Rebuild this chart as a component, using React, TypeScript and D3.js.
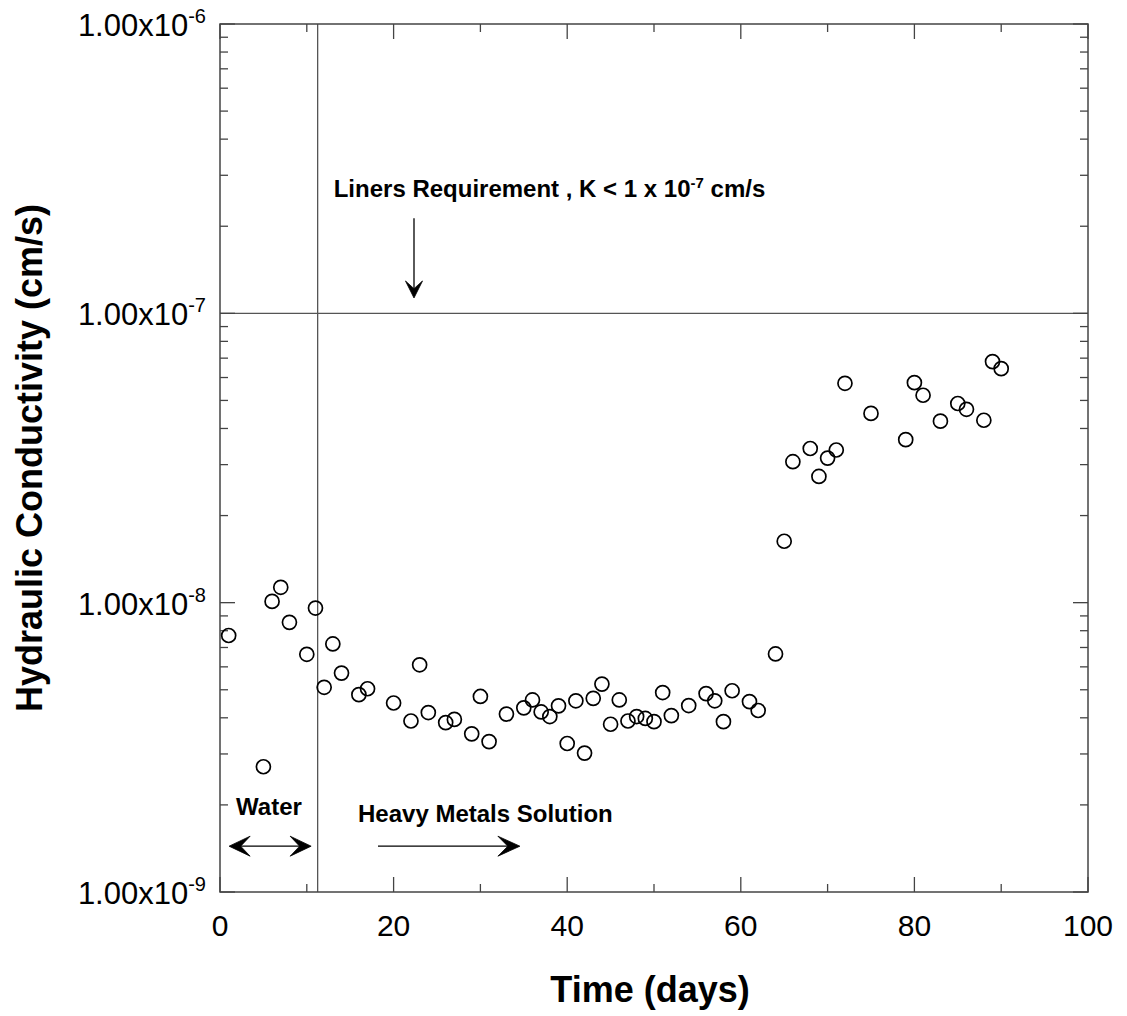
import React from "react";
import * as d3 from "d3";

const days = [1, 5, 6, 7, 8, 10, 11, 12, 13, 14, 16, 17, 20, 22, 23, 24, 26, 27, 29, 30, 31, 33, 35, 36, 37, 38, 39, 40, 41, 42, 43, 44, 45, 46, 47, 48, 49, 50, 51, 52, 54, 56, 57, 58, 59, 61, 62, 64, 65, 66, 68, 69, 70, 71, 72, 75, 79, 80, 81, 83, 85, 86, 88, 89, 90];
const conductivity = [
  7.7e-9, 2.71e-9, 1.01e-8, 1.13e-8, 8.55e-9, 6.63e-9, 9.58e-9, 5.1e-9, 7.2e-9, 5.71e-9,
  4.81e-9, 5.04e-9, 4.5e-9, 3.9e-9, 6.1e-9, 4.17e-9, 3.85e-9, 3.95e-9, 3.52e-9, 4.74e-9,
  3.31e-9, 4.12e-9, 4.33e-9, 4.61e-9, 4.19e-9, 4.04e-9, 4.4e-9, 3.26e-9, 4.58e-9, 3.02e-9,
  4.67e-9, 5.23e-9, 3.8e-9, 4.61e-9, 3.9e-9, 4.04e-9, 3.98e-9, 3.88e-9, 4.89e-9, 4.07e-9,
  4.41e-9, 4.85e-9, 4.58e-9, 3.88e-9, 4.96e-9, 4.55e-9, 4.24e-9, 6.65e-9, 1.63e-8, 3.07e-8,
  3.41e-8, 2.73e-8, 3.16e-8, 3.37e-8, 5.73e-8, 4.51e-8, 3.66e-8, 5.76e-8, 5.21e-8, 4.24e-8,
  4.88e-8, 4.66e-8, 4.27e-8, 6.81e-8, 6.44e-8,
];

const xMajorTicks = [0, 20, 40, 60, 80, 100];
const xMinorTicks = [10, 30, 50, 70, 90];
const yMajorTicks = [1e-9, 1e-8, 1e-7, 1e-6];
const yTickMantissa = ["1.00x10", "1.00x10", "1.00x10", "1.00x10"];
const yTickExponent = ["-9", "-8", "-7", "-6"];
const yMinorMultipliers = [2, 3, 4, 5, 6, 7, 8, 9];

const linerLimit = 1e-7;
const switchDay = 11.25;

const xTitle = "Time (days)";
const yTitle = "Hydraulic Conductivity (cm/s)";

const FONT = "'Liberation Sans', Arial, Helvetica, sans-serif";

function ArrowHead({ x, y, dir, len, half }: { x: number; y: number; dir: "left" | "right" | "down"; len: number; half: number }) {
  let d = "";
  if (dir === "right") {
    d = `M${x},${y} L${x - len},${y - half} L${x - len * 0.55},${y} L${x - len},${y + half} Z`;
  } else if (dir === "left") {
    d = `M${x},${y} L${x + len},${y - half} L${x + len * 0.55},${y} L${x + len},${y + half} Z`;
  } else {
    d = `M${x},${y} L${x - half},${y - len} L${x},${y - len * 0.55} L${x + half},${y - len} Z`;
  }
  return <path d={d} fill="#000" stroke="#000" strokeWidth={0.8} strokeLinejoin="miter" />;
}

export default function App() {
  const W = 1127;
  const H = 1016;
  const x = d3.scaleLinear().domain([0, 100]).range([220, 1088]);
  const y = d3.scaleLog().domain([1e-9, 1e-6]).range([892, 24]);
  const [x0, x1] = x.range();
  const [yb, yt] = y.range();

  const yMinor: number[] = [];
  for (let e = -9; e < -6; e++) {
    for (const m of yMinorMultipliers) yMinor.push(m * Math.pow(10, e));
  }

  const axisColor = "#444";
  const majorLen = 15;
  const minorLen = 8;

  // annotation anchors (data space)
  const linerArrowDay = 22.35;
  const linerArrowTop = 2.13e-7;
  const linerArrowTip = 1.13e-7;
  const linerTextDay = 13.1;
  const linerTextK = 2.52e-7;
  const waterFrom = 1.05;
  const waterTo = 10.5;
  const arrowK = 1.44e-9;
  const heavyFrom = 18.2;
  const heavyTo = 34.55;
  const waterTextDay = 1.85;
  const waterTextK = 1.84e-9;
  const heavyTextDay = 15.9;
  const heavyTextK = 1.745e-9;

  return (
    <svg width={W} height={H} style={{ position: "absolute", left: 0, top: 0, background: "#fff" }} fontFamily={FONT}>
      <rect x={0} y={0} width={W} height={H} fill="#fff" />

      {/* reference lines */}
      <line x1={x0} x2={x1} y1={y(linerLimit)} y2={y(linerLimit)} stroke="#555" strokeWidth={1.3} />
      <line x1={x(switchDay)} x2={x(switchDay)} y1={yt} y2={yb} stroke="#555" strokeWidth={1.3} />

      {/* ticks */}
      {xMajorTicks.map((t) => (
        <g key={"xM" + t}>
          <line x1={x(t)} x2={x(t)} y1={yb} y2={yb - majorLen} stroke={axisColor} strokeWidth={1.3} />
          <line x1={x(t)} x2={x(t)} y1={yt} y2={yt + majorLen} stroke={axisColor} strokeWidth={1.3} />
        </g>
      ))}
      {xMinorTicks.map((t) => (
        <g key={"xm" + t}>
          <line x1={x(t)} x2={x(t)} y1={yb} y2={yb - minorLen} stroke={axisColor} strokeWidth={1.3} />
          <line x1={x(t)} x2={x(t)} y1={yt} y2={yt + minorLen} stroke={axisColor} strokeWidth={1.3} />
        </g>
      ))}
      {yMajorTicks.map((t) => (
        <g key={"yM" + t}>
          <line x1={x0} x2={x0 + majorLen} y1={y(t)} y2={y(t)} stroke={axisColor} strokeWidth={1.3} />
          <line x1={x1} x2={x1 - majorLen} y1={y(t)} y2={y(t)} stroke={axisColor} strokeWidth={1.3} />
        </g>
      ))}
      {yMinor.map((t, i) => (
        <g key={"ym" + i}>
          <line x1={x0} x2={x0 + minorLen} y1={y(t)} y2={y(t)} stroke={axisColor} strokeWidth={1.3} />
          <line x1={x1} x2={x1 - minorLen} y1={y(t)} y2={y(t)} stroke={axisColor} strokeWidth={1.3} />
        </g>
      ))}

      {/* frame */}
      <rect x={x0} y={yt} width={x1 - x0} height={yb - yt} fill="none" stroke={axisColor} strokeWidth={1.5} />

      {/* tick labels */}
      {xMajorTicks.map((t) => (
        <text key={"xl" + t} x={x(t)} y={936} textAnchor="middle" fontSize={30} fill="#000">
          {t}
        </text>
      ))}
      {yMajorTicks.map((t, i) => (
        <text key={"yl" + t} x={206} y={y(t) + 12} textAnchor="end" fontSize={31} fill="#000">
          {yTickMantissa[i]}
          <tspan fontSize={20} dy={-13}>{yTickExponent[i]}</tspan>
        </text>
      ))}

      {/* axis titles */}
      <text x={(x0 + x1) / 2 - 4} y={1002} textAnchor="middle" fontSize={36} fontWeight="bold" fill="#000">
        {xTitle}
      </text>
      <text transform={`translate(42,${(yt + yb) / 2}) rotate(-90)`} textAnchor="middle" fontSize={36} fontWeight="bold" fill="#000">
        {yTitle}
      </text>

      {/* annotations */}
      <text x={x(linerTextDay)} y={y(linerTextK)} fontSize={24} fontWeight="bold" fill="#000">
        Liners Requirement , K &lt; 1 x 10<tspan fontSize={15} dy={-9}>-7</tspan>
        <tspan dy={9}> cm/s</tspan>
      </text>
      <line x1={x(linerArrowDay)} x2={x(linerArrowDay)} y1={y(linerArrowTop)} y2={y(linerArrowTip) - 8} stroke="#000" strokeWidth={1.3} />
      <ArrowHead x={x(linerArrowDay)} y={y(linerArrowTip)} dir="down" len={17} half={8.5} />

      <text x={x(waterTextDay)} y={y(waterTextK)} fontSize={24} fontWeight="bold" fill="#000">
        Water
      </text>
      <line x1={x(waterFrom) + 8} x2={x(waterTo) - 8} y1={y(arrowK)} y2={y(arrowK)} stroke="#000" strokeWidth={1.3} />
      <ArrowHead x={x(waterFrom)} y={y(arrowK)} dir="left" len={21} half={10} />
      <ArrowHead x={x(waterTo)} y={y(arrowK)} dir="right" len={21} half={10} />

      <text x={x(heavyTextDay)} y={y(heavyTextK)} fontSize={24} fontWeight="bold" fill="#000">
        Heavy Metals Solution
      </text>
      <line x1={x(heavyFrom)} x2={x(heavyTo) - 8} y1={y(arrowK)} y2={y(arrowK)} stroke="#000" strokeWidth={1.3} />
      <ArrowHead x={x(heavyTo)} y={y(arrowK)} dir="right" len={22} half={10} />

      {/* data points */}
      {days.map((d, i) => (
        <circle key={"p" + i} cx={x(d)} cy={y(conductivity[i])} r={7} fill="none" stroke="#000" strokeWidth={1.7} />
      ))}
    </svg>
  );
}
